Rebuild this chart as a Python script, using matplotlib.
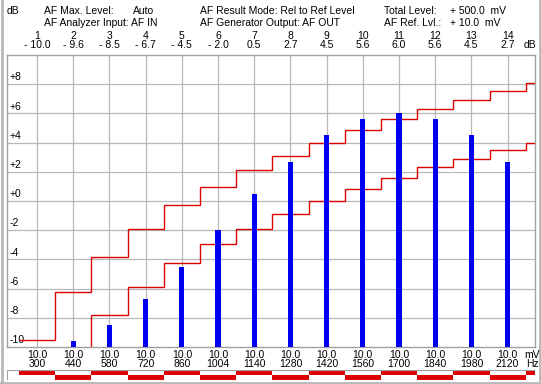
import numpy as np
import matplotlib
matplotlib.use('Agg')
import matplotlib.pyplot as plt
import matplotlib.transforms as mtransforms
from matplotlib.patches import Rectangle

plt.rcParams['font.family'] = ['Liberation Sans', 'DejaVu Sans']

# Tone numbers, frequencies (Hz), levels (mV) and measured results (dB rel. to ref)
tones = list(range(1, 15))
freqs = [300, 440, 580, 720, 860, 1004, 1140, 1280, 1420, 1560, 1700, 1840, 1980, 2120]
levels = [10.0] * 14
results = [-10.0, -9.6, -8.5, -6.7, -4.5, -2.0, 0.5, 2.7, 4.5, 5.6, 6.0, 5.6, 4.5, 2.7]

# Tolerance masks, one value per tone segment (last one runs to the right edge)
upper_lim = [-9.5, -6.2, -3.85, -1.9, -0.3, 0.95, 2.1, 3.1, 4.0, 4.85, 5.65, 6.3, 6.95, 7.5, 8.05]
lower_lim = [-7.8, -5.9, -4.25, -2.95, -1.9, -0.9, 0.0, 0.8, 1.6, 2.3, 2.9, 3.5, 4.0]  # from tone 3 on

y_ticks = [-10, -8, -6, -4, -2, 0, 2, 4, 6, 8]

W, H = 541, 384
RED = '#e00000'
BLUE = '#0000f0'
GRID = '#b8b8b8'


def px(x0, y0, x1, y1):
    return [x0 / W, 1 - y1 / H, (x1 - x0) / W, (y1 - y0) / H]


fig = plt.figure(figsize=(W / 100, H / 100), dpi=100)

ax = fig.add_axes(px(7, 55, 535, 347))
xmin, xmax = -0.83, 13.757
ymin, ymax = -10, 10
ax.set_xlim(xmin, xmax)
ax.set_ylim(ymin, ymax)
ax.set_xticks([])
ax.set_yticks([])
for s in ax.spines.values():
    s.set_color('#a0a0a0')
    s.set_linewidth(1.0)

idx = np.arange(len(freqs))
for i in idx:
    ax.axvline(i, color=GRID, lw=0.9, zorder=0)
for v in y_ticks[1:]:
    ax.axhline(v, color=GRID, lw=0.9, zorder=0)
for v in y_ticks:
    lab = f'+{v}' if v >= 0 else f'{v}'
    ax.text(xmin + 0.06, v + 0.12, lab, fontsize=7.5, ha='left', va='bottom', zorder=1)

# bars
vals = np.array(results)
ax.bar(idx, vals - ymin, bottom=ymin, width=0.14, color=BLUE, zorder=3)

# limit lines
edges = np.arange(len(upper_lim) + 1) - 0.5
edges = np.clip(edges, xmin, xmax)
ax.stairs(upper_lim, edges, baseline=None, color=RED, lw=1.0, zorder=2)
low_edges = edges[2:2 + len(lower_lim) + 1]
ax.stairs(lower_lim, low_edges, baseline=None, color=RED, lw=1.0, zorder=2)
ax.vlines(low_edges[0], ymin, lower_lim[0], color=RED, lw=1.0, zorder=2)

# header
fs = 7.5
fig.text(7 / W, 1 - 11 / H, 'dB', fontsize=fs, va='center')
fig.text(44 / W, 1 - 11 / H, 'AF Max. Level:', fontsize=fs, va='center')
fig.text(133 / W, 1 - 11 / H, 'Auto', fontsize=fs, va='center')
fig.text(44 / W, 1 - 23 / H, 'AF Analyzer Input: AF IN', fontsize=fs, va='center')
fig.text(200 / W, 1 - 11 / H, 'AF Result Mode: Rel to Ref Level', fontsize=fs, va='center')
fig.text(200 / W, 1 - 23 / H, 'AF Generator Output: AF OUT', fontsize=fs, va='center')
fig.text(384 / W, 1 - 11 / H, 'Total Level:', fontsize=fs, va='center')
fig.text(450 / W, 1 - 11 / H, '+ 500.0  mV', fontsize=fs, va='center')
fig.text(384 / W, 1 - 23 / H, 'AF Ref. Lvl.:', fontsize=fs, va='center')
fig.text(450 / W, 1 - 23 / H, '+ 10.0  mV', fontsize=fs, va='center')

trans = mtransforms.blended_transform_factory(ax.transData, fig.transFigure)
for i, (t, r) in enumerate(zip(tones, results)):
    rs = f'- {abs(r):.1f}' if r < 0 else f'{r:.1f}'
    ax.text(i, 1 - 36 / H, str(t), transform=trans, fontsize=fs, ha='center', va='center')
    ax.text(i, 1 - 45 / H, rs, transform=trans, fontsize=fs, ha='center', va='center')
fig.text(536 / W, 1 - 45 / H, 'dB', fontsize=fs, ha='right', va='center')

# bottom labels
for i, (lv, f) in enumerate(zip(levels, freqs)):
    ax.text(i, 1 - 355 / H, f'{lv:.1f}', transform=trans, fontsize=fs, ha='center', va='center')
    ax.text(i, 1 - 364 / H, str(f), transform=trans, fontsize=fs, ha='center', va='center')
fig.text(532 / W, 1 - 355 / H, 'mV', fontsize=fs, ha='center', va='center')
fig.text(532 / W, 1 - 364 / H, 'Hz', fontsize=fs, ha='center', va='center')

# red/white strip
sx = fig.add_axes(px(7, 370, 535, 380))
sx.set_xlim(xmin, xmax)
sx.set_ylim(0, 2)
sx.axis('off')
seg_idx = np.arange(len(upper_lim))
left = edges[:-1]
widths = np.diff(edges)
top_cols = [RED if i % 2 == 0 else 'white' for i in seg_idx]
bot_cols = ['white' if i % 2 == 0 else RED for i in seg_idx]
sx.bar(left, 1, width=widths, bottom=1, align='edge', color=top_cols, lw=0)
sx.bar(left, 1, width=widths, bottom=0, align='edge', color=bot_cols, lw=0)
sx.add_patch(Rectangle((xmin, 0), xmax - xmin, 2, fill=False, ec='#a0a0a0', lw=0.8))

# window frame
fig.add_artist(plt.Line2D([1.5 / W, 1.5 / W], [0, 1], color='#b8b8b8', lw=2))
fig.add_artist(plt.Line2D([0, 1], [1.5 / H, 1.5 / H], color='#b8b8b8', lw=2))
fig.add_artist(plt.Line2D([1 - 1.5 / W, 1 - 1.5 / W], [0, 1], color='#b8b8b8', lw=2))

fig.savefig('out.png', dpi=100)
